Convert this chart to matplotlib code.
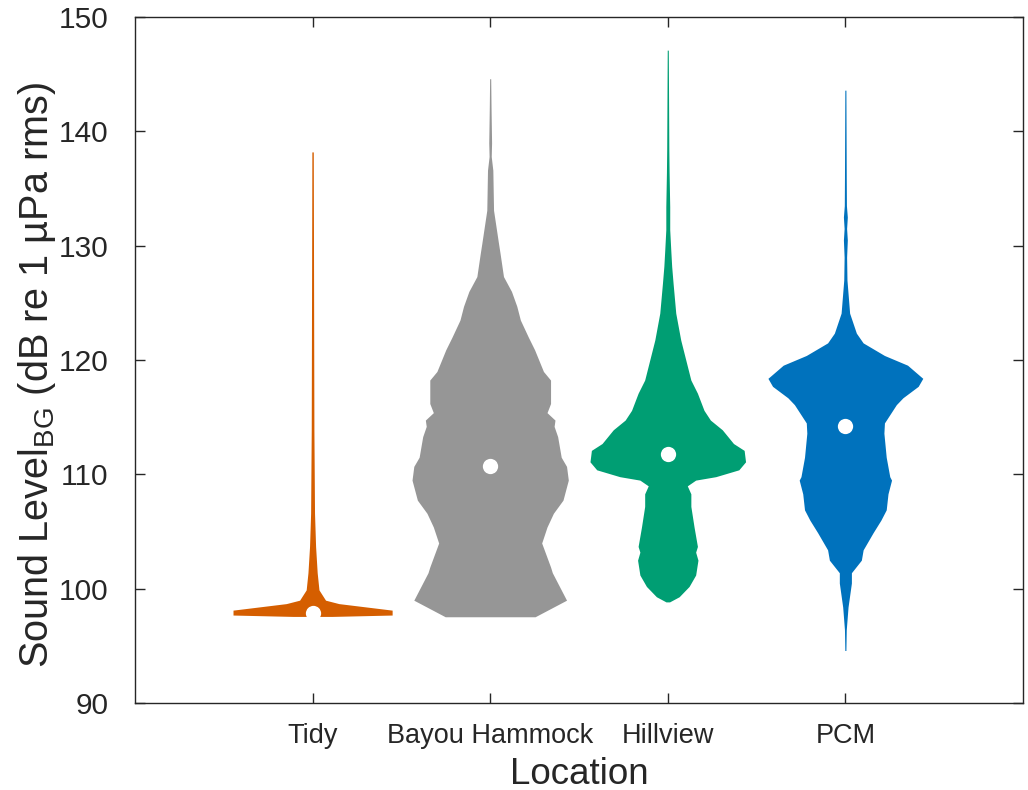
import matplotlib
matplotlib.use('Agg')
import matplotlib.pyplot as plt

plt.rcParams['font.family'] = ['Liberation Sans', 'DejaVu Sans']
plt.rcParams['mathtext.fontset'] = 'custom'
plt.rcParams['mathtext.rm'] = 'Liberation Sans'

# Locations and colours
locations = ['Tidy', 'Bayou Hammock', 'Hillview', 'PCM']
colors = ['#D55E00', '#969696', '#009E73', '#0072BD']
medians = [97.9, 110.7, 111.8, 114.2]

# Violin outlines: level (dB) and half width (x units)
tidy_y = [97.58, 97.7, 98.13, 98.7, 99.0, 99.9, 101.4, 103.7, 106.6, 113.9, 138.2]
tidy_w = [0.11, 0.448, 0.448, 0.148, 0.073, 0.036, 0.026, 0.017, 0.011, 0.0075, 0.004]

bayou_y = [97.55, 99.0, 99.6, 101.4, 101.9, 104.0, 105.4, 106.6, 107.75, 109.5,
           110.7, 111.5, 113.3, 114.2, 114.75, 115.4, 116.2, 118.25, 119.0, 120.9,
           122.0, 123.5, 124.7, 126.0, 127.3, 129.3, 130.2, 133.1, 136.6, 137.8,
           139.0, 142.0, 144.6]
bayou_w = [0.253, 0.43, 0.41, 0.35, 0.34, 0.29, 0.32, 0.356, 0.41, 0.44,
           0.43, 0.40, 0.38, 0.36, 0.365, 0.32, 0.34, 0.34, 0.30, 0.25,
           0.215, 0.17, 0.15, 0.12, 0.075, 0.056, 0.047, 0.019, 0.015, 0.006,
           0.008, 0.005, 0.003]

hill_y = [98.85, 99.3, 100.2, 101.2, 102.5, 103.2, 103.7, 105.4, 107.2, 108.3,
          109.0, 109.5, 109.8, 110.4, 111.1, 112.1, 112.7, 113.9, 114.75, 115.6,
          117.1, 118.25, 121.75, 124.1, 126.7, 128.2, 129.6, 131.4, 133.4, 136.4,
          138.4, 147.1]
hill_w = [0.01, 0.064, 0.12, 0.157, 0.17, 0.157, 0.167, 0.148, 0.13, 0.13,
          0.11, 0.157, 0.27, 0.40, 0.438, 0.43, 0.37, 0.307, 0.24, 0.204,
          0.167, 0.13, 0.073, 0.045, 0.03, 0.022, 0.017, 0.011, 0.011, 0.0075,
          0.006, 0.003]

pcm_y = [94.6, 96.4, 98.4, 100.5, 101.4, 102.5, 103.4, 104.9, 106.0, 106.9,
         108.3, 109.5, 109.8, 111.5, 113.6, 114.5, 116.1, 116.7, 117.7, 118.4,
         119.55, 120.4, 121.5, 122.35, 124.1, 127.0, 129.0, 130.5, 131.5, 132.5,
         133.5, 136.0, 143.6]
pcm_w = [0.003, 0.005, 0.015, 0.034, 0.034, 0.09, 0.1, 0.156, 0.20, 0.23,
         0.24, 0.26, 0.25, 0.23, 0.217, 0.22, 0.287, 0.324, 0.41, 0.436,
         0.35, 0.22, 0.10, 0.062, 0.024, 0.009, 0.007, 0.011, 0.007, 0.011,
         0.006, 0.005, 0.003]

outlines = [(tidy_y, tidy_w), (bayou_y, bayou_w), (hill_y, hill_w), (pcm_y, pcm_w)]

fig = plt.figure(figsize=(10.28, 7.9), dpi=100)
ax = fig.add_axes([0.1313, 0.110, 0.8638, 0.8685])

for i, ((ys, ws), color) in enumerate(zip(outlines, colors)):
    pos = i + 1
    left = [pos - w for w in ws]
    right = [pos + w for w in ws]
    ax.fill_betweenx(ys, left, right, color=color, linewidth=0)
    ax.plot(pos, medians[i], 'o', color='white', markersize=11,
            markeredgewidth=0)

ax.set_xlim(0, 5)
ax.set_ylim(90, 150)
ax.set_xticks([1, 2, 3, 4])
ax.set_xticklabels(locations)
ax.set_yticks(range(90, 151, 10))
ax.tick_params(direction='in', top=True, right=True, length=7, width=1,
               color='#262626', labelcolor='#262626')
ax.tick_params(axis='x', labelsize=19.5, pad=14)
ax.tick_params(axis='y', labelsize=21.5, pad=19)
for spine in ax.spines.values():
    spine.set_color('#262626')
    spine.set_linewidth(1)

ax.set_xlabel('Location', fontsize=26.5, color='#262626', labelpad=6)
ax.set_ylabel('Sound Level$_{\\mathrm{BG}}$ (dB re 1 µPa rms)', fontsize=28.5,
              color='#262626')
ax.yaxis.set_label_coords(-0.0867, 0.478)

fig.savefig('out.png', dpi=100)
